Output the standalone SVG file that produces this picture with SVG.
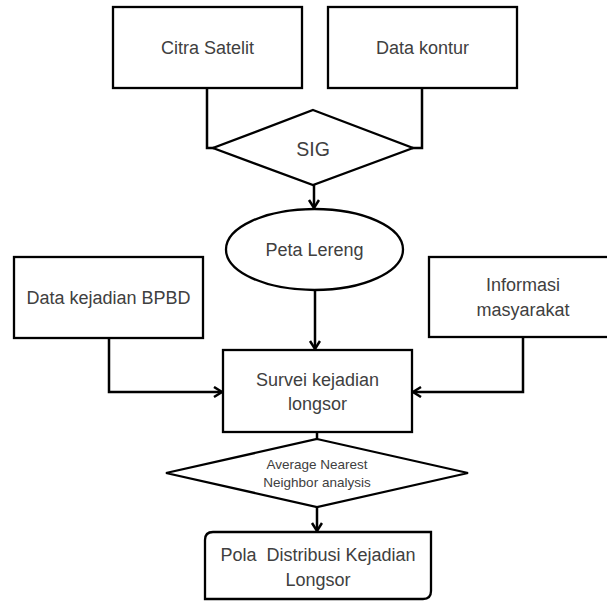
<svg xmlns="http://www.w3.org/2000/svg" width="607" height="601" viewBox="0 0 607 601">
<defs>
<style>
.s{fill:#fff;stroke:#000;stroke-width:2.3}
.t{font-family:"Liberation Sans",Arial,sans-serif;font-size:18px;fill:#404040;text-anchor:middle;white-space:pre}
.c{fill:none;stroke:#000;stroke-width:2.5}
</style>
<marker id="ah" markerUnits="userSpaceOnUse" markerWidth="14" markerHeight="14" refX="10" refY="6" orient="auto">
<path d="M2,1 L10,6 L2,11" fill="none" stroke="#000" stroke-width="2.5"/>
</marker>
</defs>
<rect width="607" height="601" fill="#fff"/>
<g id="connectors">
<path class="c" d="M207,88 V148 H214"/>
<path class="c" d="M422,88 V148 H412"/>
<path class="c" d="M314,185 V208" marker-end="url(#ah)"/>
<path class="c" d="M315,290 V349" marker-end="url(#ah)"/>
<path class="c" d="M109,338 V392 H222" marker-end="url(#ah)"/>
<path class="c" d="M523,337 V392 H413" marker-end="url(#ah)"/>
<path class="c" d="M317,432 V440"/>
<path class="c" d="M317,507 V531" marker-end="url(#ah)"/>
</g>
<g id="citra">
<rect class="s" x="113" y="7" width="189" height="81"/>
<text class="t" x="207.5" y="54">Citra Satelit</text>
</g>
<g id="kontur">
<rect class="s" x="328" y="7" width="189" height="81"/>
<text class="t" x="422.5" y="54">Data kontur</text>
</g>
<g id="sig">
<polygon class="s" points="313,110 413,148 313,185 213,148"/>
<text class="t" x="313" y="156" style="font-size:19.5px">SIG</text>
</g>
<g id="peta">
<ellipse class="s" cx="314.5" cy="249.5" rx="88.5" ry="40.5"/>
<text class="t" x="314.5" y="256">Peta Lereng</text>
</g>
<g id="bpbd">
<rect class="s" x="14" y="257" width="189" height="81"/>
<text class="t" x="108.5" y="304">Data kejadian BPBD</text>
</g>
<g id="informasi">
<rect class="s" x="429" y="257" width="190" height="80"/>
<text class="t" x="523" y="291">Informasi</text>
<text class="t" x="523" y="316">masyarakat</text>
</g>
<g id="survei">
<rect class="s" x="223" y="350" width="189" height="82"/>
<text class="t" x="317.5" y="386">Survei kejadian</text>
<text class="t" x="317.5" y="410">longsor</text>
</g>
<g id="ann">
<polygon class="s" points="317,439 468,473 317,507 166,473"/>
<text class="t" x="317" y="469" style="font-size:13.5px">Average Nearest</text>
<text class="t" x="317" y="487" style="font-size:13.5px">Neighbor analysis</text>
</g>
<g id="pola">
<path class="s" d="M213,532 H431 V591 Q431,599 423,599 H205 V540 Q205,532 213,532 Z"/>
<text class="t" x="318" y="561" xml:space="preserve">Pola  Distribusi Kejadian</text>
<text class="t" x="318" y="586">Longsor</text>
</g>
</svg>
